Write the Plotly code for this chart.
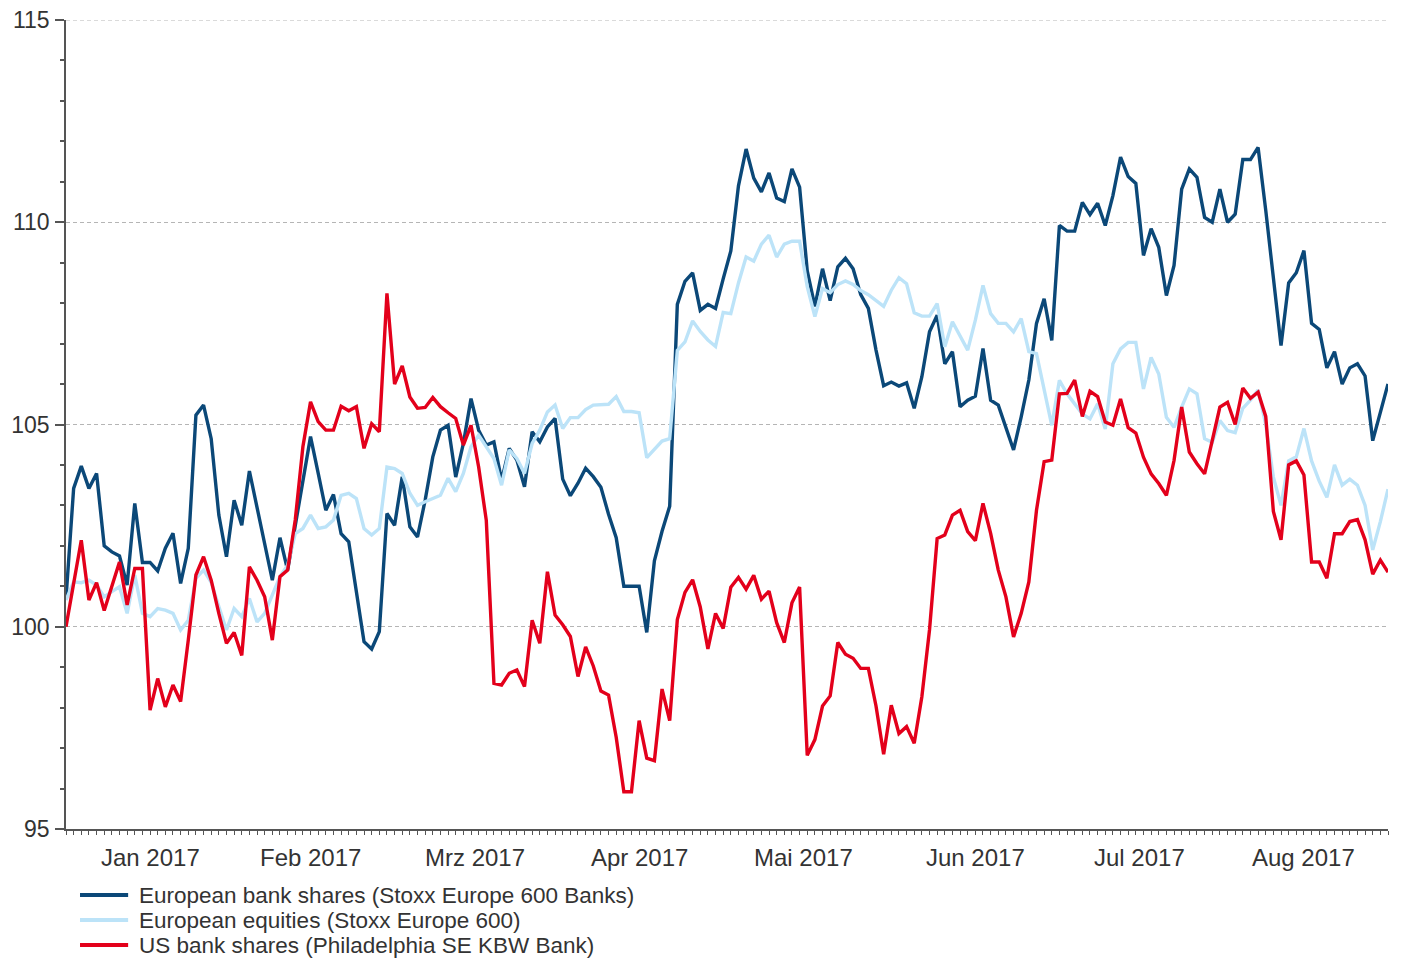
import plotly.graph_objects as go
import pandas as pd

# Business days (index base on 30 Dec 2016)
dates = pd.bdate_range("2016-12-30", "2017-08-30")
month_labels = ["Jan 2017", "Feb 2017", "Mrz 2017", "Apr 2017",
                "Mai 2017", "Jun 2017", "Jul 2017", "Aug 2017"]
y_ticks = [95, 100, 105, 110, 115]

series_names = ["European bank shares (Stoxx Europe 600 Banks)",
                "European equities (Stoxx Europe 600)",
                "US bank shares (Philadelphia SE KBW Bank)"]

eu_banks = [
    100.7, 103.42, 103.97, 103.42, 103.79, 102.0, 101.85, 101.75, 101.03, 103.05,
    101.59, 101.59, 101.38, 101.94, 102.31, 101.07, 101.94, 105.23, 105.48, 104.65,
    102.76, 101.73, 103.13, 102.51, 103.85, 102.95, 102.05, 101.15, 102.2, 101.4,
    102.5, 103.6, 104.7, 103.8, 102.88, 103.27, 102.3, 102.1, 100.9, 99.63,
    99.45, 99.88, 102.8, 102.51, 103.71, 102.47, 102.22, 103.13, 104.2, 104.86,
    104.98, 103.7, 104.53, 105.64, 104.86, 104.49, 104.57, 103.62, 104.41, 104.12,
    103.46, 104.82, 104.57, 104.94, 105.15, 103.65, 103.24, 103.55, 103.92, 103.71,
    103.45, 102.78, 102.2, 101.0, 101.0, 101.0, 99.86, 101.63, 102.36, 102.98,
    107.97, 108.54, 108.75, 107.82, 107.97, 107.87, 108.6, 109.29, 110.9, 111.81,
    111.09, 110.75, 111.22, 110.6, 110.51, 111.32, 110.87, 108.8, 107.92, 108.85,
    108.06, 108.9, 109.11, 108.85, 108.21, 107.87, 106.84, 105.96, 106.05, 105.95,
    106.03, 105.4, 106.18, 107.29, 107.7, 106.5, 106.8, 105.44, 105.6, 105.7,
    106.88, 105.6, 105.48, 104.94, 104.37, 105.19, 106.1, 107.5, 108.11, 107.08,
    109.92, 109.78, 109.78, 110.49, 110.19, 110.47, 109.92, 110.66, 111.61, 111.13,
    110.96, 109.18, 109.84, 109.38, 108.19, 108.93, 110.82, 111.32, 111.11, 110.12,
    110.0, 110.82, 110.0, 110.2, 111.55, 111.55, 111.85, 110.3, 108.6, 106.95,
    108.5, 108.75, 109.3, 107.5, 107.35, 106.4, 106.8, 106.0, 106.4, 106.5,
    106.2, 104.6, 105.3, 106.0]

eu_equities = [
    100.66, 101.11, 101.09, 101.15, 101.03, 100.74, 100.87, 100.99, 100.33, 101.28,
    100.33, 100.25, 100.45, 100.41, 100.33, 99.92, 100.16, 101.2, 101.4, 101.1,
    100.5, 99.92, 100.45, 100.25, 100.7, 100.12, 100.33, 100.78, 101.24, 101.52,
    102.3, 102.43, 102.76, 102.43, 102.47, 102.64, 103.25, 103.3, 103.17, 102.43,
    102.27, 102.43, 103.95, 103.91, 103.79, 103.3, 103.0, 103.09, 103.17, 103.25,
    103.67, 103.34, 103.79, 104.45, 104.74, 104.45, 104.16, 103.5, 104.37, 104.16,
    103.79, 104.53, 104.86, 105.31, 105.48, 104.9, 105.17, 105.17, 105.37, 105.48,
    105.48, 105.5, 105.69, 105.32, 105.32, 105.29, 104.18, 104.39, 104.59, 104.65,
    106.83, 107.04, 107.56, 107.3, 107.09, 106.93, 107.77, 107.74, 108.5, 109.14,
    109.04, 109.46, 109.68, 109.14, 109.46, 109.53, 109.53, 108.41, 107.67, 108.36,
    108.26, 108.46, 108.55, 108.46, 108.31, 108.21, 108.06, 107.92, 108.32, 108.63,
    108.48, 107.76, 107.68, 107.68, 107.99, 106.92, 107.54, 107.17, 106.84, 107.58,
    108.44, 107.74, 107.5, 107.5, 107.29, 107.62, 106.8, 106.75, 105.85, 104.98,
    106.09, 105.76, 105.51, 105.26, 105.14, 105.51, 104.89, 106.5, 106.87, 107.03,
    107.03, 105.88, 106.66, 106.25, 105.18, 104.93, 105.43, 105.88, 105.76, 104.65,
    104.56, 105.1, 104.85, 104.8, 105.4, 105.6, 105.85, 105.0, 103.7, 103.0,
    104.1, 104.2, 104.9, 104.1, 103.6, 103.2, 104.0, 103.5, 103.65, 103.5,
    103.0, 101.9, 102.6, 103.4]

us_banks = [
    100.0, 101.07, 102.14, 100.66, 101.09, 100.4, 100.99, 101.6, 100.54, 101.44,
    101.44, 97.94, 98.72, 98.02, 98.56, 98.15, 99.67, 101.28, 101.73, 101.15,
    100.33, 99.59, 99.86, 99.29, 101.48, 101.15, 100.74, 99.67, 101.24, 101.4,
    102.64, 104.45, 105.56, 105.07, 104.86, 104.86, 105.45, 105.34, 105.44, 104.41,
    105.02, 104.82, 108.24, 106.0, 106.45, 105.68, 105.4, 105.42, 105.67, 105.44,
    105.29, 105.15, 104.49, 104.98, 103.95, 102.63, 98.6, 98.56, 98.85, 98.93,
    98.52, 100.16, 99.59, 101.36, 100.29, 100.05, 99.76, 98.77, 99.5, 99.03,
    98.41, 98.31, 97.27, 95.92, 95.92, 97.68, 96.75, 96.69, 98.46, 97.68,
    100.18, 100.85, 101.16, 100.49, 99.45, 100.33, 99.96, 100.98, 101.22, 100.93,
    101.27, 100.68, 100.88, 100.1, 99.61, 100.59, 100.98, 96.82, 97.21, 98.04,
    98.29, 99.61, 99.32, 99.22, 98.97, 98.97, 98.04, 96.85, 98.06, 97.36,
    97.53, 97.12, 98.27, 99.92, 102.18, 102.27, 102.76, 102.88, 102.35, 102.13,
    103.05, 102.31, 101.4, 100.74, 99.75, 100.33, 101.11, 102.88, 104.08, 104.12,
    105.76, 105.77, 106.1, 105.2, 105.82, 105.69, 105.06, 104.98, 105.63, 104.92,
    104.79, 104.19, 103.78, 103.54, 103.25, 104.11, 105.43, 104.32, 104.03, 103.78,
    104.6, 105.43, 105.55, 105.0, 105.9, 105.65, 105.8, 105.2, 102.85, 102.15,
    104.0, 104.1, 103.75, 101.6, 101.6, 101.2, 102.3, 102.3, 102.6, 102.65,
    102.15, 101.3, 101.65, 101.35]

colors = ["#0B4878", "#BCE3F8", "#E3001B"]

idx = list(range(len(dates)))
date_text = [d.strftime("%d.%m.%Y") for d in dates]
month_end = [i for i in idx if i == len(dates) - 1 or dates[i].month != dates[i + 1].month]
month_mid = [(month_end[j] + month_end[j + 1]) / 2 for j in range(len(month_end) - 1)]

FONT = "Liberation Sans, Arial, sans-serif"
AX = "#555555"
TXT = "#333333"
GRID = "#b5b5b5"

fig = go.Figure()
for name, vals, col in zip(series_names, [eu_banks, eu_equities, us_banks], colors):
    fig.add_trace(go.Scatter(
        x=idx, y=vals, mode="lines", name=name,
        line=dict(color=col, width=3.4),
        customdata=date_text, showlegend=False,
        hovertemplate="%{customdata}: %{y:.2f}<extra></extra>"))

# top gridline (plotly drops grid lines at the range edge)
fig.add_shape(type="line", xref="paper", yref="y", x0=0, x1=1,
              y0=y_ticks[-1], y1=y_ticks[-1], layer="below",
              line=dict(color=GRID, width=1, dash="4px,3px"))

# month labels centred in each month
for pos, lab in zip(month_mid, month_labels):
    fig.add_annotation(x=pos, y=0, xref="x", yref="paper", yanchor="top",
                       yshift=-13, text=lab, showarrow=False,
                       font=dict(family=FONT, size=24, color=TXT))

# legend drawn below the plot
leg_y = [-0.0816, -0.1125, -0.1434]
for name, col, yy in zip(series_names, colors, leg_y):
    fig.add_shape(type="line", xref="paper", yref="paper",
                  x0=0.0106, x1=0.047, y0=yy, y1=yy,
                  line=dict(color=col, width=4))
    fig.add_annotation(x=0.0537, y=yy, xref="paper", yref="paper",
                       xanchor="left", yanchor="middle", text=name,
                       showarrow=False, font=dict(family=FONT, size=22.5, color=TXT))

fig.update_layout(
    width=1401, height=962,
    margin=dict(l=58, r=21, t=12, b=141, autoexpand=False),
    paper_bgcolor="white", plot_bgcolor="white",
    font=dict(family=FONT, size=22, color=TXT),
    showlegend=False,
    xaxis=dict(range=[0, len(dates) - 1], tickmode="array", automargin=False,
               tickvals=month_end[:-1], ticktext=["" for _ in month_end[:-1]],
               ticks="outside", ticklen=8, tickwidth=1.5, tickcolor=AX,
               showline=True, linecolor=AX, linewidth=1.5,
               showgrid=False, zeroline=False,
               minor=dict(tickmode="array", tickvals=idx, ticks="outside",
                          ticklen=4, tickwidth=1, tickcolor=AX, showgrid=False)),
    yaxis=dict(range=[95, 115], tickmode="array", tickvals=y_ticks, automargin=False,
               ticks="outside", ticklen=9, tickwidth=1.5, tickcolor=AX,
               showline=True, linecolor=AX, linewidth=1.5,
               showgrid=True, gridcolor=GRID, gridwidth=1, griddash="4px,3px",
               zeroline=False, ticklabelstandoff=1, ticklabeloverflow="allow",
               tickfont=dict(family=FONT, size=23, color=TXT),
               minor=dict(tickmode="linear", tick0=95, dtick=1, ticks="outside",
                          ticklen=4, tickwidth=1.5, tickcolor=AX, showgrid=False)),
)

fig.write_html("out.html")
